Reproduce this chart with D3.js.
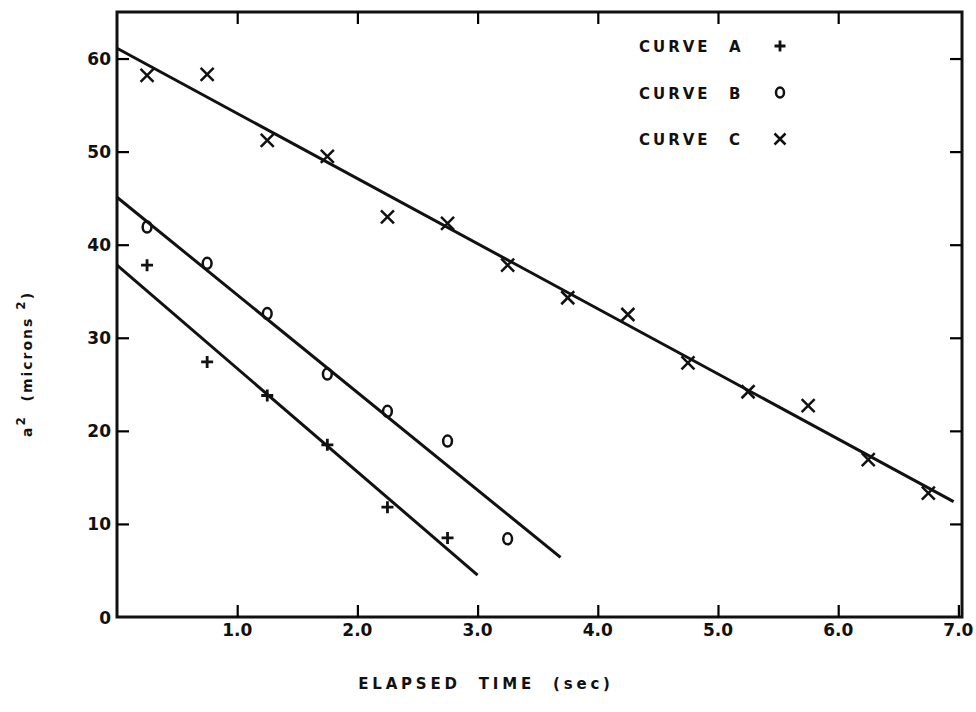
<!DOCTYPE html>
<html>
<head>
    <title>Elapsed time vs a squared</title>
    <script src="https://cdnjs.cloudflare.com/ajax/libs/d3/7.8.5/d3.min.js"></script>
    <style>
        html, body {
            margin: 0;
            padding: 0;
            background: #fff;
        }
        svg text {
            font-family: 'DejaVu Sans', sans-serif;
            font-weight: bold;
            fill: #111;
        }
    </style>
</head>
<body>
    <div id="chart"></div>
    <script>
        const timesA = [0.25, 0.75, 1.25, 1.75, 2.25, 2.75];
        const valuesA = [37.8, 27.4, 23.8, 18.5, 11.8, 8.5];
        const timesB = [0.25, 0.75, 1.25, 1.75, 2.25, 2.75, 3.25];
        const valuesB = [41.9, 38.0, 32.6, 26.1, 22.1, 18.9, 8.4];
        const timesC = [0.25, 0.75, 1.25, 1.75, 2.25, 2.75, 3.25, 3.75, 4.25, 4.75, 5.25, 5.75, 6.25, 6.75];
        const valuesC = [58.2, 58.3, 51.2, 49.5, 43.0, 42.3, 37.8, 34.3, 32.5, 27.3, 24.2, 22.7, 16.9, 13.3];

        // fitted lines, end points
        const fitA = [[0, 37.8], [3.0, 4.5]];
        const fitB = [[0, 45.1], [3.69, 6.4]];
        const fitC = [[0, 61.1], [6.96, 12.4]];

        const xTicks = [1, 2, 3, 4, 5, 6, 7];
        const yTicks = [0, 10, 20, 30, 40, 50, 60];
        const legendLetters = ['A', 'B', 'C'];

        const width = 976, height = 712;
        const margin = { left: 117, right: 14, top: 12, bottom: 95 };

        const svg = d3.select('#chart').append('svg')
            .attr('width', width)
            .attr('height', height);

        const x = d3.scaleLinear().domain([0, 7.03]).range([margin.left, width - margin.right]);
        const y = d3.scaleLinear().domain([0, 65]).range([height - margin.bottom, margin.top]);

        // frame
        svg.append('rect')
            .attr('x', x(0)).attr('y', y(65))
            .attr('width', x(7.03) - x(0)).attr('height', y(0) - y(65))
            .attr('fill', 'none').attr('stroke', '#111').attr('stroke-width', 3);

        // axes with inward ticks
        const bottomAxis = svg.append('g')
            .attr('transform', 'translate(0,' + y(0) + ')')
            .call(d3.axisTop(x).tickValues(xTicks).tickSize(12).tickFormat(''));
        bottomAxis.select('.domain').remove();
        bottomAxis.selectAll('line').attr('stroke-width', 2.2);
        svg.selectAll('.xlab').data(xTicks).enter().append('text')
            .attr('x', d => x(d)).attr('y', y(0) + 19)
            .attr('text-anchor', 'middle').style('font-size', '17px')
            .text(d => d.toFixed(1));

        const topAxis = svg.append('g')
            .attr('transform', 'translate(0,' + y(65) + ')')
            .call(d3.axisBottom(x).tickValues([1, 2, 3, 4, 5, 6]).tickSize(12).tickFormat(''));
        topAxis.select('.domain').remove();
        topAxis.selectAll('line').attr('stroke-width', 2.2);

        const leftAxis = svg.append('g')
            .attr('transform', 'translate(' + x(0) + ',0)')
            .call(d3.axisRight(y).tickValues(yTicks.slice(1)).tickSize(12).tickFormat(''));
        leftAxis.select('.domain').remove();
        leftAxis.selectAll('line').attr('stroke-width', 2.2);
        svg.selectAll('.ylab').data(yTicks).enter().append('text')
            .attr('x', x(0) - 6).attr('y', d => y(d) + 6.5)
            .attr('text-anchor', 'end').style('font-size', '17px')
            .text(d => d);

        const rightAxis = svg.append('g')
            .attr('transform', 'translate(' + x(7.03) + ',0)')
            .call(d3.axisLeft(y).tickValues(yTicks.slice(1)).tickSize(12).tickFormat(''));
        rightAxis.select('.domain').remove();
        rightAxis.selectAll('line').attr('stroke-width', 2.2);

        // fitted lines
        const line = d3.line().x(d => x(d[0])).y(d => y(d[1]));
        [fitA, fitB, fitC].forEach(f => {
            svg.append('path')
                .attr('d', line(f))
                .attr('fill', 'none')
                .attr('stroke', '#111')
                .attr('stroke-width', 3);
        });

        // markers
        function plus(g, s) {
            g.append('path').attr('d', `M${-s},0H${s}M0,${-s}V${s}`)
                .attr('stroke', '#111').attr('stroke-width', 2.8).attr('fill', 'none');
        }
        function cross(g, s) {
            g.append('path').attr('d', `M${-s},${-s}L${s},${s}M${-s},${s}L${s},${-s}`)
                .attr('stroke', '#111').attr('stroke-width', 2.5).attr('fill', 'none');
        }
        function ring(g, s) {
            g.append('ellipse').attr('rx', s * 0.8).attr('ry', s)
                .attr('stroke', '#111').attr('stroke-width', 2.5).attr('fill', 'none');
        }

        function drawPoints(times, values, shape, s) {
            times.forEach((t, i) => {
                const g = svg.append('g')
                    .attr('transform', 'translate(' + x(t) + ',' + y(values[i]) + ')');
                shape(g, s);
            });
        }
        drawPoints(timesA, valuesA, plus, 6);
        drawPoints(timesB, valuesB, ring, 5.5);
        drawPoints(timesC, valuesC, cross, 6.5);

        // legend
        const legendShapes = [plus, ring, cross];
        const legendSizes = [5.5, 5, 5.5];
        legendLetters.forEach((letter, i) => {
            const ly = 46 + i * 46.5;
            svg.append('text')
                .attr('x', 639).attr('y', ly + 6)
                .style('font-size', '15px')
                .style('letter-spacing', '3px')
                .text('CURVE');
            svg.append('text')
                .attr('x', 729).attr('y', ly + 6)
                .style('font-size', '15px')
                .text(letter);
            const g = svg.append('g').attr('transform', 'translate(780,' + ly + ')');
            legendShapes[i](g, legendSizes[i]);
        });

        // axis titles
        svg.append('text')
            .attr('x', 486).attr('y', 689)
            .attr('text-anchor', 'middle')
            .style('font-size', '15px')
            .style('letter-spacing', '3.8px')
            .attr('xml:space', 'preserve')
            .text('ELAPSED  TIME  (sec)');

        const yt = svg.append('text')
            .attr('transform', 'translate(32,364) rotate(-90)')
            .attr('text-anchor', 'middle')
            .style('font-size', '14px')
            .style('letter-spacing', '2px')
            .attr('xml:space', 'preserve');
        yt.append('tspan').text('a');
        yt.append('tspan').attr('dy', -7).style('font-size', '12px').text('2');
        yt.append('tspan').attr('dy', 7).text('  (microns ');
        yt.append('tspan').attr('dy', -7).style('font-size', '12px').text('2');
        yt.append('tspan').attr('dy', 7).text(')');
    </script>
</body>
</html>
